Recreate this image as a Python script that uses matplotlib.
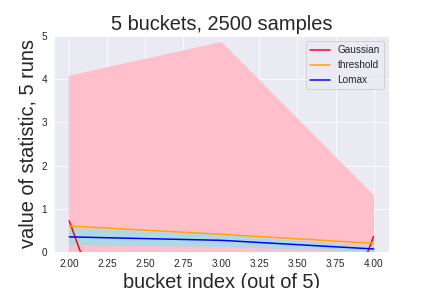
import numpy as np
import matplotlib
matplotlib.use("Agg")
import matplotlib.pyplot as plt
import seaborn as sns

sns.set_style("darkgrid")
plt.rcParams["font.family"] = ["Liberation Sans", "DejaVu Sans"]

# bucket indices shown
buckets = [2, 3, 4]

# mean of statistic over 5 runs, with band edges
gaussian_mean = [0.72, -9.0, 0.36]
gaussian_hi = [4.07, 4.85, 1.3]
gaussian_lo = [-2.6, -22.0, -0.6]

threshold_mean = [0.6, 0.41, 0.2]

lomax_mean = [0.35, 0.27, 0.07]
lomax_hi = [0.55, 0.4, 0.12]
lomax_lo = [0.18, 0.14, 0.03]

fig, ax = plt.subplots(figsize=(6, 4), dpi=72)
fig.subplots_adjust(left=0.125, right=0.9, bottom=0.125, top=0.875)

ax.fill_between(buckets, gaussian_lo, gaussian_hi, color="pink")
ax.fill_between(buckets, lomax_lo, lomax_hi, color="lightblue")
ax.plot(buckets, gaussian_mean, color="red", label="Gaussian")
ax.plot(buckets, threshold_mean, color="orange", label="threshold")
ax.plot(buckets, lomax_mean, color="blue", label="Lomax")

ax.set_ylim(0, 5)
ax.set_title("5 buckets, 2500 samples", fontsize=20)
ax.set_xlabel("bucket index (out of 5)", fontsize=20)
ax.set_ylabel("value of statistic, 5 runs", fontsize=20)
ax.tick_params(labelsize=10)
ax.legend(loc="upper right", fontsize=10)

plt.savefig("out.png", dpi=72)
